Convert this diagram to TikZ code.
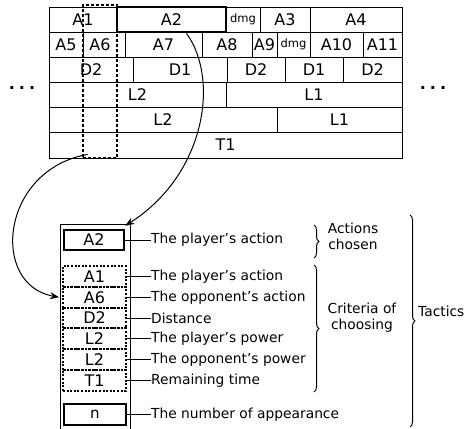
\documentclass[tikz,border=0pt]{standalone}
\usepackage{fontspec}
\setmainfont{DejaVu Sans}
\usetikzlibrary{arrows.meta,decorations.pathreplacing,calc}

\begin{document}
\begin{tikzpicture}[x=1pt,y=-1pt,
  cell/.style={draw, line width=0.9pt, inner sep=0pt, font=\fontsize{16}{16}\selectfont},
  dmgcell/.style={cell, font=\fontsize{11.5}{12}\selectfont},
  thickbox/.style={draw, line width=2.6pt, inner sep=0pt, font=\fontsize{16}{16}\selectfont},
  selbox/.style={draw, line width=2.8pt, dash pattern=on 2.8pt off 2.2pt, inner sep=0pt},
  dotbox/.style={draw, line width=2pt, dash pattern=on 2pt off 1.6pt, inner sep=0pt,
    minimum width=63pt, minimum height=20.8pt, font=\fontsize{16}{16}\selectfont},
  lab/.style={anchor=west, inner sep=0pt, font=\fontsize{13.8}{14}\selectfont},
  grp/.style={align=center, inner sep=0pt, font=\fontsize{13.8}{16}\selectfont},
  link/.style={line width=0.9pt},
  curve/.style={line width=1pt, -{Stealth[length=9pt,width=7pt]}},
  brc/.style={decorate, decoration={brace, amplitude=5pt}, line width=1pt},
  more/.style={font=\bfseries\fontsize{16}{16}\selectfont, inner sep=0pt}
]
\useasboundingbox (0,0) rectangle (473,428);

% ---- time-line table ----
% row 1
\node[cell, minimum width=68pt, minimum height=25pt] (ra1) at (83,19.5) {A1};
\node[dmgcell, minimum width=34pt, minimum height=25pt] (rdmg1) at (243,19.5) {dmg};
\node[cell, minimum width=50pt, minimum height=25pt] (ra3) at (285,19.5) {A3};
\node[cell, minimum width=92pt, minimum height=25pt] (ra4) at (356,19.5) {A4};
% row 2
\node[cell, minimum width=34pt, minimum height=25pt] (ra5) at (66,44.5) {A5};
\node[cell, minimum width=42pt, minimum height=25pt] (ra6) at (104,44.5) {A6\hspace*{8pt}};
\node[cell, minimum width=77pt, minimum height=25pt] (ra7) at (163.5,44.5) {A7};
\node[cell, minimum width=50pt, minimum height=25pt] (ra8) at (227,44.5) {A8};
\node[cell, minimum width=25pt, minimum height=25pt] (ra9) at (264.5,44.5) {A9};
\node[dmgcell, minimum width=33pt, minimum height=25pt] (rdmg2) at (293.5,44.5) {dmg};
\node[cell, minimum width=53pt, minimum height=25pt] (ra10) at (336.5,44.5) {A10};
\node[cell, minimum width=39pt, minimum height=25pt] (ra11) at (382.5,44.5) {A11};
% row 3
\node[cell, minimum width=84pt, minimum height=25pt] (rd2a) at (91,69.5) {D2};
\node[cell, minimum width=94pt, minimum height=25pt] (rd1a) at (180,69.5) {D1};
\node[cell, minimum width=58pt, minimum height=25pt] (rd2b) at (256,69.5) {D2};
\node[cell, minimum width=58pt, minimum height=25pt] (rd1b) at (314,69.5) {D1};
\node[cell, minimum width=59pt, minimum height=25pt] (rd2c) at (372.5,69.5) {D2};
% row 4
\node[cell, minimum width=177pt, minimum height=25pt] (rl2a) at (137.5,94.5) {L2};
\node[cell, minimum width=176pt, minimum height=25pt] (rl1a) at (314,94.5) {L1};
% row 5
\node[cell, minimum width=228pt, minimum height=25pt] (rl2b) at (163,119.5) {L2};
\node[cell, minimum width=125pt, minimum height=25pt] (rl1b) at (339.5,119.5) {L1};
% row 6
\node[cell, minimum width=353pt, minimum height=26pt] (rt1) at (225.5,145) {T1};
% chosen action and selected column
\node[thickbox, minimum width=109pt, minimum height=25pt] (ra2) at (171.5,19.5) {A2};
\node[selbox, minimum width=34pt, minimum height=153pt] (sel) at (100,81.5) {};

\node[more] (moreL) at (22,88) {.\hspace{4pt}.\hspace{4pt}.};
\node[more] (moreR) at (433,88) {.\hspace{4pt}.\hspace{4pt}.};

% ---- tactic record ----
\draw[line width=1pt] (60,432) -- (60,224) -- (130,224) -- (130,432);
\node[thickbox, minimum width=60pt, minimum height=20pt] (ba2) at (94,240) {A2};
\node[dotbox] (ba1) at (94.5,276.4) {A1};
\node[dotbox] (ba6) at (94.5,297.2) {A6};
\node[dotbox] (bd2) at (94.5,318.0) {D2};
\node[dotbox] (bl2a) at (94.5,338.8) {L2};
\node[dotbox] (bl2b) at (94.5,359.6) {L2};
\node[dotbox] (bt1) at (94.5,380.4) {T1};
\node[draw, line width=1.5pt, inner sep=0pt, minimum width=62pt, minimum height=21pt,
  font=\fontsize{15}{15}\selectfont] (bn) at (95,414.5) {n};

% labels
\node[lab] (la2) at (151,240) {The player's action};
\node[lab] (la1) at (151,276.4) {The player's action};
\node[lab] (la6) at (151,297.2) {The opponent's action};
\node[lab] (ld2) at (151,318.0) {Distance};
\node[lab] (ll2a) at (151,338.8) {The player's power};
\node[lab] (ll2b) at (151,359.6) {The opponent's power};
\node[lab] (lt1) at (151,380.4) {Remaining time};
\node[lab] (ln) at (151,414.5) {The number of appearance};

\foreach \b/\l in {ba2/la2, ba1/la1, ba6/la6, bd2/ld2, bl2a/ll2a, bl2b/ll2b, bt1/lt1, bn/ln}
  \draw[link] (\b.east) -- (\l.west);

% braces
\draw[brc] (314,225) -- (314,258);
\node[grp] (gact) at (353,236.5) {Actions\\chosen};
\draw[brc] (314,265) -- (314,392);
\node[grp] (gcrit) at (362,317.5) {Criteria of\\choosing};
\draw[brc] (410,215) -- (410,427);
\node[grp, anchor=west] (gtac) at (418,311) {Tactics};

% mapping arrows
\draw[curve] ([xshift=15pt]ra2.south) .. controls (220,80) and (205,175) .. ([yshift=3pt]ba2.north east);
\draw[curve] ([shift={(6pt,5pt)}]sel.south west) .. controls (0,170) and (-10,285) .. ([xshift=-3pt]ba6.west);
\end{tikzpicture}
\end{document}
